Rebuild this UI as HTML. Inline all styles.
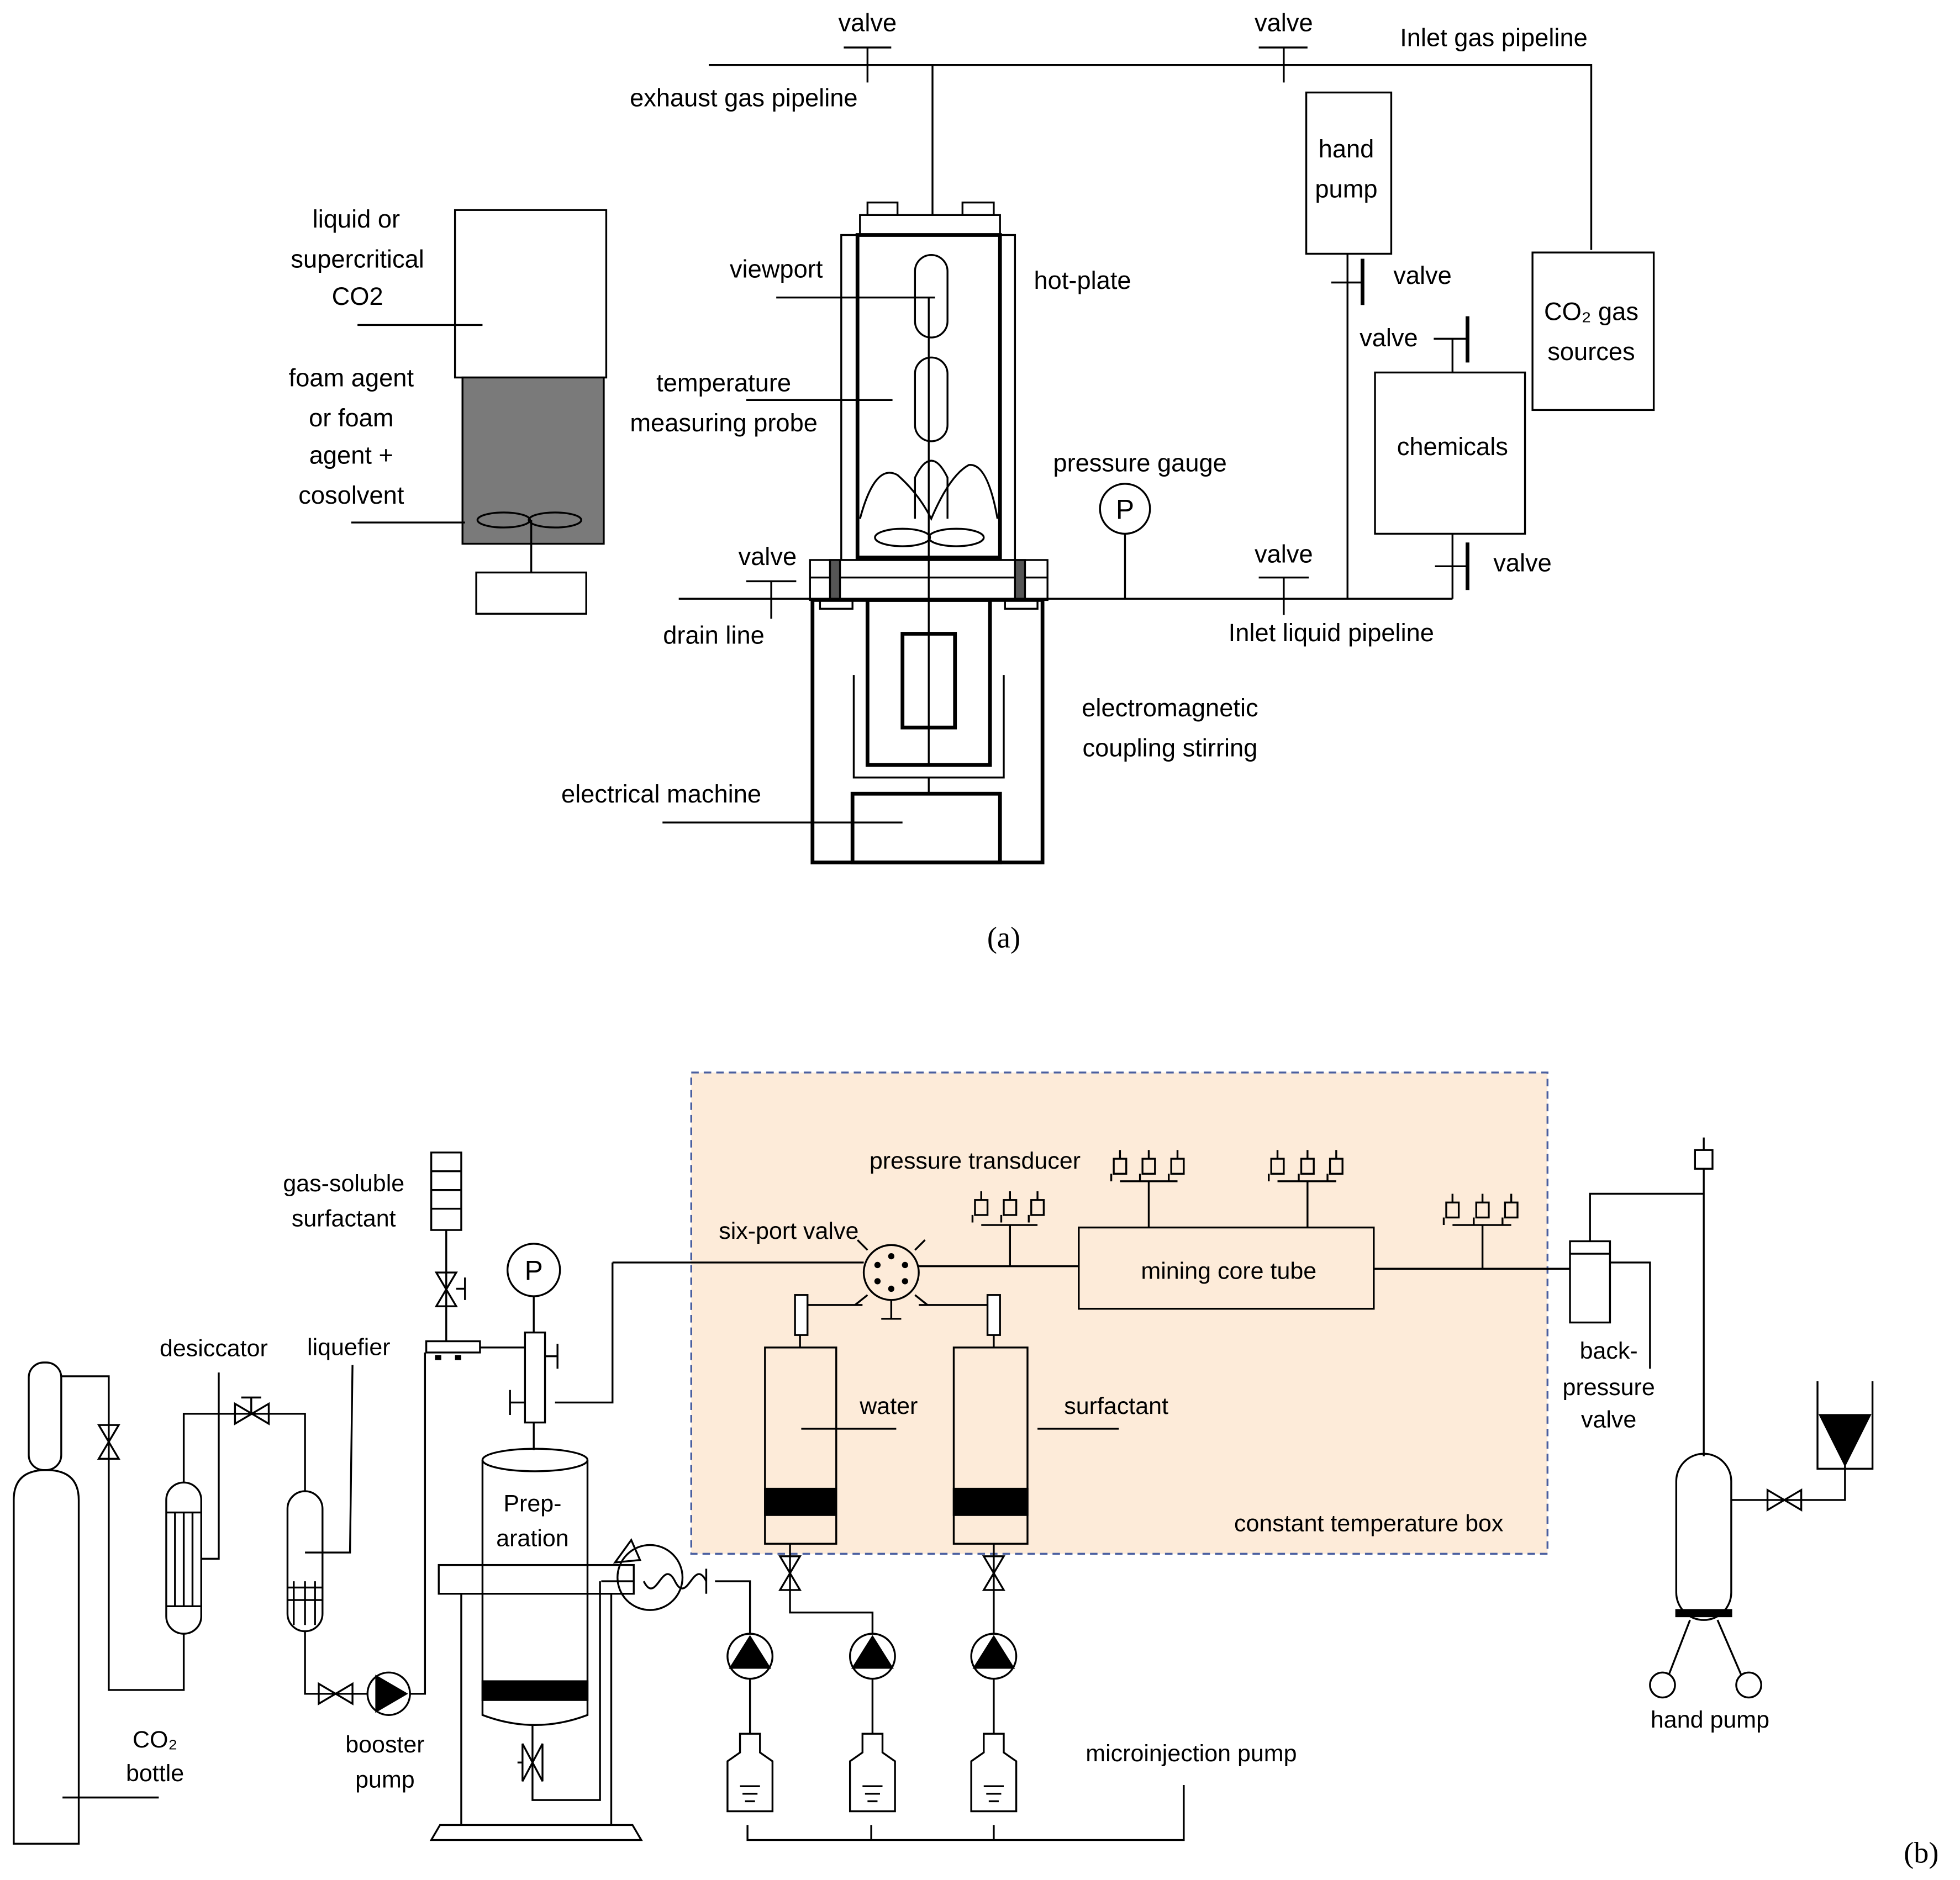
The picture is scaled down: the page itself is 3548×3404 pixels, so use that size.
<!DOCTYPE html>
<html><head><meta charset="utf-8"><style>html,body{margin:0;padding:0;background:#fff}svg{display:block}</style></head><body>
<svg width="3548" height="3404" viewBox="0 0 1568 1504" preserveAspectRatio="none" xmlns="http://www.w3.org/2000/svg" font-family="Liberation Sans, sans-serif" font-size="20" fill="none" stroke="#000" stroke-width="1.5">
<defs>
<g id="tr"><rect x="-5" y="0" width="10" height="12"/><path d="M0 -7V0M-7 12V18"/></g>
<g id="bt"><path d="M-8 0H8V15L18 22V62H-18V22L-8 15Z"/><path d="M-8 42H8M-6 48H6M-4 54H4"/></g>
</defs>
<g fill="#000" stroke="none" text-anchor="middle">
<text x="694" y="25">valve</text><text x="1027" y="25">valve</text>
<text x="1195" y="37">Inlet gas pipeline</text><text x="595" y="85">exhaust gas pipeline</text>
<text x="285" y="182">liquid or</text><text x="286" y="214">supercritical</text><text x="286" y="244">CO2</text>
<text x="281" y="309">foam agent</text><text x="281" y="341">or foam</text><text x="281" y="371">agent +</text><text x="281" y="403">cosolvent</text>
<text x="621" y="222">viewport</text><text x="866" y="231">hot-plate</text>
<text x="579" y="313">temperature</text><text x="579" y="345">measuring probe</text>
<text x="912" y="377">pressure gauge</text>
<text x="614" y="452">valve</text><text x="571" y="515">drain line</text>
<text x="1027" y="450">valve</text><text x="1065" y="513">Inlet liquid pipeline</text>
<text x="1077" y="126">hand</text><text x="1077" y="158">pump</text>
<text x="1138" y="227">valve</text><text x="1111" y="277">valve</text><text x="1218" y="457">valve</text>
<text x="1162" y="364">chemicals</text>
<text x="1273" y="256">CO₂ gas</text><text x="1273" y="288">sources</text>
<text x="936" y="573">electromagnetic</text><text x="936" y="605">coupling stirring</text>
<text x="529" y="642">electrical machine</text>
<text x="803" y="758" font-family="Liberation Serif, serif" font-size="24">(a)</text>
</g>
<path d="M567 52H1273V200M675 38H713M694 38V66M1007 38H1046M1027 38V66M746 52V172"/>
<rect x="688" y="172" width="112" height="16"/><rect x="694" y="162" width="24" height="10"/><rect x="770" y="162" width="25" height="10"/>
<rect x="673" y="188" width="139" height="260"/>
<rect x="686" y="188" width="114" height="258" stroke-width="3"/>
<rect x="732" y="204" width="26" height="66" rx="13"/><rect x="732" y="286" width="26" height="67" rx="13"/>
<path d="M732 415V382Q745 355 758 382V415"/>
<path d="M688 415Q700 370 718 380Q735 395 745 415Q760 380 775 372Q790 370 798 415"/>
<ellipse cx="722" cy="430" rx="22" ry="7"/><ellipse cx="765" cy="430" rx="22" ry="7"/>
<path d="M743 238V612"/>
<rect x="648" y="448" width="190" height="32"/><path d="M648 462H838"/>
<rect x="664" y="448" width="8" height="32" fill="#555"/><rect x="812" y="448" width="8" height="32" fill="#555"/>
<rect x="650" y="480" width="184" height="210" stroke-width="3"/>
<rect x="656" y="480" width="26" height="7"/><rect x="804" y="480" width="26" height="7"/>
<path d="M683 540V622H803V540"/>
<rect x="694" y="480" width="98" height="132" stroke-width="3"/>
<rect x="722" y="507" width="42" height="75" stroke-width="3"/>
<path d="M743 622V635"/><rect x="682" y="635" width="118" height="55" stroke-width="3"/>
<path d="M543 479H1162M597 465H637M617 465V495"/>
<circle cx="900" cy="407" r="20"/><text x="900" y="415" fill="#000" stroke="none" text-anchor="middle" font-size="22">P</text>
<path d="M900 427V479M1007 462H1047M1027 462V492"/>
<rect x="1045" y="74" width="68" height="129"/>
<path d="M1090 207V244" stroke-width="3"/><path d="M1078 203V479M1065 226H1090"/>
<rect x="1100" y="298" width="120" height="129"/>
<path d="M1174 253V290M1174 434V472" stroke-width="3"/><path d="M1147 271H1174M1162 271V298M1162 427V479M1148 453H1174"/>
<rect x="1226" y="202" width="97" height="126"/>
<rect x="364" y="168" width="121" height="134"/>
<rect x="370" y="302" width="113" height="133" fill="#7a7a7a"/>
<ellipse cx="403" cy="416" rx="21" ry="6"/><ellipse cx="444" cy="416" rx="21" ry="6"/>
<path d="M425 416V458"/><rect x="381" y="458" width="88" height="33"/>
<path d="M286 260H386M281 418H372M621 238H748M597 320H714M530 658H722"/>
<rect x="553" y="858" width="685" height="385" fill="#fdebd9" stroke="#4a5fa0" stroke-dasharray="6 4"/>
<g fill="#000" stroke="none" text-anchor="middle" font-size="19">
<text x="1095" y="1225">constant temperature box</text><text x="983" y="1023">mining core tube</text>
<text x="631" y="991">six-port valve</text><text x="780" y="935">pressure transducer</text>
<text x="711" y="1131">water</text><text x="893" y="1131">surfactant</text>
<text x="426" y="1209">Prep-</text><text x="426" y="1237">aration</text>
<text x="171" y="1085">desiccator</text><text x="279" y="1084">liquefier</text>
<text x="275" y="953">gas-soluble</text><text x="275" y="981">surfactant</text>
<text x="124" y="1398">CO₂</text><text x="124" y="1425">bottle</text>
<text x="308" y="1402">booster</text><text x="308" y="1430">pump</text>
<text x="953" y="1409">microinjection pump</text>
<text x="1287" y="1087">back-</text><text x="1287" y="1116">pressure</text><text x="1287" y="1142">valve</text>
<text x="1368" y="1382">hand pump</text>
<text x="1537" y="1490" font-family="Liberation Serif, serif" font-size="24">(b)</text>
</g>
<rect x="863" y="982" width="236" height="65"/>
<circle cx="713" cy="1018" r="22"/>
<g fill="#000" stroke="none"><circle cx="713" cy="1005" r="2.5"/><circle cx="713" cy="1031" r="2.5"/><circle cx="702" cy="1012" r="2.5"/><circle cx="724" cy="1012" r="2.5"/><circle cx="702" cy="1025" r="2.5"/><circle cx="724" cy="1025" r="2.5"/></g>
<path d="M490 1010H691M490 1010V1122H444M735 1013H863M1099 1015H1256M713 1040V1055M705 1055H721M694 1000L686 992M732 1000L740 992M694 1036L684 1044M732 1036L742 1044"/>
<path d="M808 980V1013M785 980H830M919 945V982M896 945H942M1046 945V982M1022 945H1069M1186 980V1015M1162 980H1209"/>
<use href="#tr" x="785" y="960"/><use href="#tr" x="808" y="960"/><use href="#tr" x="830" y="960"/>
<use href="#tr" x="896" y="927"/><use href="#tr" x="919" y="927"/><use href="#tr" x="942" y="927"/>
<use href="#tr" x="1022" y="927"/><use href="#tr" x="1046" y="927"/><use href="#tr" x="1069" y="927"/>
<use href="#tr" x="1162" y="962"/><use href="#tr" x="1186" y="962"/><use href="#tr" x="1209" y="962"/>
<path d="M690 1044H640V1078M735 1044H795V1078"/>
<rect x="636" y="1036" width="10" height="32" fill="#fff"/><rect x="790" y="1036" width="10" height="32" fill="#fff"/>
<rect x="612" y="1078" width="57" height="157"/><rect x="612" y="1191" width="57" height="21" fill="#000"/>
<rect x="763" y="1078" width="59" height="157"/><rect x="763" y="1191" width="59" height="21" fill="#000"/>
<path d="M641 1143H717M830 1143H895"/>
<path d="M632 1235V1290H698V1307M795 1235V1307M600 1307V1265H572"/>
<path d="M624 1245H640L624 1272H640Z M787 1245H803L787 1272H803Z"/>
<path d="M565 1255V1275"/>
<path d="M565 1265C555 1245 550 1285 540 1265C530 1245 525 1285 515 1265"/>
<circle cx="520" cy="1262" r="26"/><path d="M492 1250L505 1232L512 1248Z"/>
<circle cx="600" cy="1325" r="18"/><circle cx="698" cy="1325" r="18"/><circle cx="795" cy="1325" r="18"/>
<g fill="#000" stroke="none"><path d="M583 1335L600 1308L617 1335Z"/><path d="M681 1335L698 1308L715 1335Z"/><path d="M778 1335L795 1308L812 1335Z"/></g>
<path d="M600 1343V1387M698 1343V1387M795 1343V1387"/>
<use href="#bt" x="600" y="1387"/><use href="#bt" x="698" y="1387"/><use href="#bt" x="795" y="1387"/>
<path d="M598 1460V1472H947V1428M697 1460V1472M795 1460V1472"/>
<path d="M386 1168V1372Q428 1388 470 1372V1168"/><ellipse cx="428" cy="1168" rx="42" ry="9"/>
<rect x="386" y="1345" width="84" height="15" fill="#000"/>
<rect x="351" y="1252" width="156" height="23"/><path d="M481 1265H507"/>
<path d="M369 1275V1460M489 1275V1460M345 1472L352 1460H506L513 1472Z"/>
<path d="M426 1380V1440H480V1265"/><path d="M418 1395V1425L434 1395V1425Z"/><path d="M414 1410H418"/>
<path d="M427 1138V1160"/>
<rect x="420" y="1066" width="16" height="72"/><path d="M436 1085H446M446 1075V1095M408 1122H420M408 1112V1132"/>
<circle cx="427" cy="1016" r="21"/><text x="427" y="1024" fill="#000" stroke="none" text-anchor="middle" font-size="22">P</text>
<path d="M427 1037V1066"/>
<rect x="345" y="922" width="24" height="62"/><path d="M345 937H369M345 952H369M345 967H369"/>
<path d="M357 984V1073M349 1018H365L349 1045H365Z M365 1031H372M372 1022V1040"/>
<rect x="341" y="1073" width="43" height="9"/><path d="M384 1078H420M340 1082V1355H328"/>
<g fill="#000" stroke="none"><rect x="348" y="1084" width="5" height="4"/><rect x="364" y="1084" width="5" height="4"/></g>
<circle cx="311" cy="1355" r="17"/><path fill="#000" d="M301 1341L325 1355L301 1369Z"/>
<path d="M244 1305V1355H294M255 1347V1363L282 1347V1363Z"/>
<rect x="230" y="1193" width="28" height="112" rx="14"/><path d="M230 1270H258M230 1280H258M235 1265V1300M244 1265V1300M252 1265V1300"/>
<rect x="133" y="1186" width="28" height="121" rx="14"/><path d="M133 1210H161M133 1285H161M140 1210V1285M147 1210V1285M154 1210V1285"/>
<path d="M147 1186V1131H244V1193M188 1123V1139L215 1123V1139Z M201 1131V1118M193 1118H209"/>
<path d="M147 1307V1352H87V1101H49M79 1140H95L79 1167H95Z"/>
<rect x="23" y="1090" width="26" height="86" rx="12"/>
<path d="M11 1475V1200Q11 1176 37 1176Q63 1176 63 1200V1475Z"/>
<path d="M175 1098V1247H161M282 1092L280 1242H244M50 1438H127"/>
<rect x="1256" y="993" width="32" height="65"/><path d="M1256 1003H1288M1272 993V955H1363M1288 1010H1320V1095"/>
<path d="M1363 935V1165M1363 910V920"/><rect x="1356" y="920" width="14" height="15"/>
<rect x="1341" y="1163" width="44" height="133" rx="22"/><rect x="1341" y="1288" width="44" height="5" fill="#000"/>
<path d="M1352 1296L1335 1340M1374 1296L1393 1340"/>
<circle cx="1330" cy="1348" r="10"/><circle cx="1399" cy="1348" r="10"/>
<path d="M1385 1200H1476V1172M1414 1192V1208L1441 1192V1208Z"/>
<path d="M1454 1105V1175H1498V1105"/><path fill="#000" d="M1456 1132H1496L1476 1172Z"/>
</svg>
</body></html>
